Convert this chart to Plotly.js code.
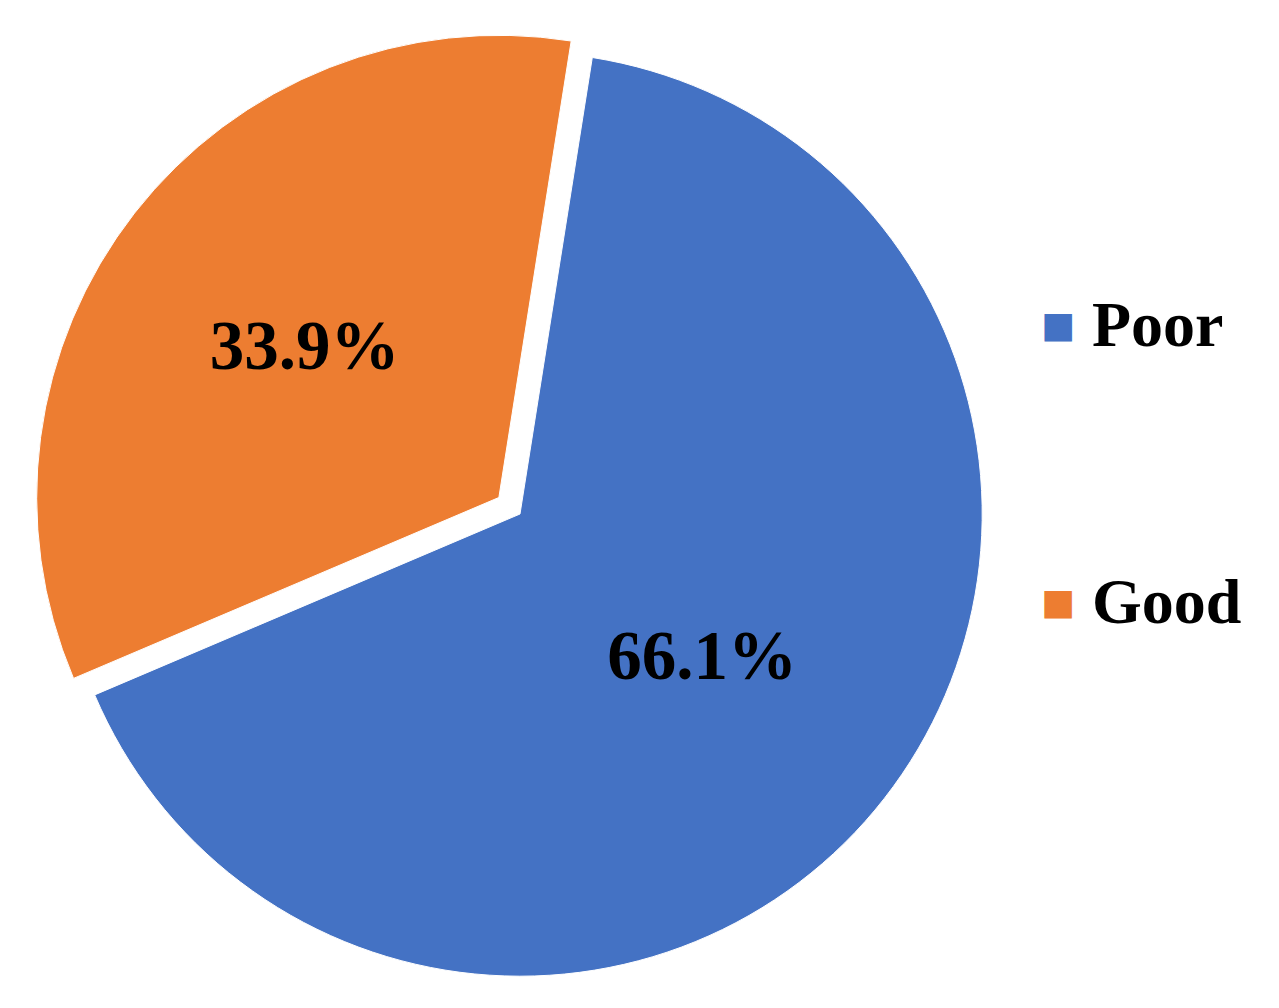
<!DOCTYPE html>
<html>
<head>
<meta charset="utf-8">
<script src="https://cdn.plot.ly/plotly-3.0.1.min.js"></script>
<style>html,body{margin:0;padding:0;background:#fff;}#chart{width:1279px;height:1008px;}</style>
</head>
<body>
<div id="chart"></div>
<script>
// Data
const labels = ["Poor", "Good"];
const values = [66.1, 33.9];
const colors = ["#4472C4", "#ED7D31"];
const pulls = [0, 0.058];

const serif = "'Liberation Serif', 'Times New Roman', serif";

const trace = {
  type: "pie",
  labels: labels,
  values: values,
  sort: false,
  direction: "clockwise",
  rotation: 9,
  pull: pulls,
  marker: {colors: colors, line: {color: "#ffffff", width: 1}},
  textinfo: "percent",
  texttemplate: "<b>%{percent:.1%}</b>",
  textposition: "inside",
  insidetextorientation: "horizontal",
  textfont: {family: serif, size: 69, color: "#000000"},
  hoverinfo: "label+percent",
  showlegend: false,
  domain: {x: [0, 1040 / 1279], y: [0, 1]}
};

// Legend drawn as annotations from the data arrays
const legendX = 1058 / 1279;
const legendTextX = 1090 / 1279;
const legendTop = 0.694;
const legendGap = 0.283;
const annotations = [];
labels.forEach((lab, i) => {
  const y = legendTop - i * legendGap;
  annotations.push({
    xref: "paper", yref: "paper", x: legendX, y: y,
    xanchor: "center", yanchor: "middle",
    text: "■", showarrow: false,
    font: {family: "DejaVu Sans", size: 36, color: colors[i]}
  });
  annotations.push({
    xref: "paper", yref: "paper", x: legendTextX, y: y,
    xanchor: "left", yanchor: "middle",
    text: "<b>" + lab + "</b>", showarrow: false,
    font: {family: serif, size: 64, color: "#000000"}
  });
});

const layout = {
  width: 1279, height: 1008,
  margin: {l: 0, r: 0, t: 25, b: 5},
  paper_bgcolor: "#ffffff",
  plot_bgcolor: "#ffffff",
  showlegend: false,
  annotations: annotations
};

Plotly.newPlot("chart", [trace], layout, {displayModeBar: false, staticPlot: true});
</script>
</body>
</html>
